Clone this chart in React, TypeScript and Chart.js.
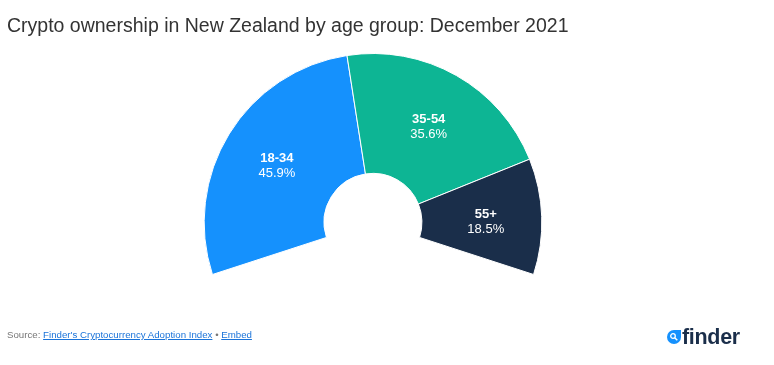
import React, { useEffect, useRef } from "react";
import { Chart, registerables } from "chart.js";

Chart.register(...registerables);

const categories = ["18-34", "35-54", "55+"];
const shares = [45.9, 35.6, 18.5];
const sliceColors = ["#1591FD", "#0DB594", "#1A2E4A"];
const titleText = "Crypto ownership in New Zealand by age group: December 2021";

const labelPlugin = {
  id: "sliceLabels",
  afterDatasetsDraw(chart: any) {
    const ctx = chart.ctx;
    const meta = chart.getDatasetMeta(0);
    meta.data.forEach((arc: any, i: number) => {
      const { x, y, startAngle, endAngle, outerRadius } = arc.getProps(
        ["x", "y", "startAngle", "endAngle", "outerRadius"],
        true
      );
      const mid = (startAngle + endAngle) / 2;
      const r = outerRadius - 56;
      const cx = x + Math.cos(mid) * r;
      const cy = y + Math.sin(mid) * r + 3;
      ctx.save();
      ctx.fillStyle = "#ffffff";
      ctx.textAlign = "center";
      ctx.textBaseline = "middle";
      ctx.font = "bold 13px 'Liberation Sans', Arial, sans-serif";
      ctx.fillText(categories[i], cx, cy - 7.5);
      ctx.font = "13px 'Liberation Sans', Arial, sans-serif";
      ctx.fillText(shares[i].toFixed(1) + "%", cx, cy + 7.5);
      ctx.restore();
    });
  },
};

export default function App() {
  const canvasRef = useRef<HTMLCanvasElement | null>(null);

  useEffect(() => {
    if (!canvasRef.current) return;
    const chart = new Chart(canvasRef.current, {
      type: "doughnut",
      data: {
        labels: categories,
        datasets: [
          {
            data: shares,
            backgroundColor: sliceColors,
            borderColor: "#ffffff",
            borderWidth: 1,
          },
        ],
      },
      options: {
        responsive: false,
        animation: false,
        rotation: -108,
        circumference: 216,
        cutout: "29%",
        layout: { padding: { top: 53, bottom: 90, left: 173, right: 201 } },
        plugins: {
          legend: { display: false },
          tooltip: { enabled: false },
          title: { display: false },
        },
      },
      plugins: [labelPlugin],
    });
    return () => chart.destroy();
  }, []);

  const font = "'Liberation Sans', Arial, Helvetica, sans-serif";

  return (
    <div
      style={{
        position: "absolute",
        left: 0,
        top: 0,
        width: 774,
        height: 365,
        background: "#ffffff",
        fontFamily: font,
        overflow: "hidden",
      }}
    >
      <canvas
        ref={canvasRef}
        width={774}
        height={365}
        style={{ position: "absolute", left: 0, top: 0, width: 774, height: 365 }}
      />
      <div
        style={{
          position: "absolute",
          left: 7,
          top: 15,
          fontSize: 19.5,
          lineHeight: "20px",
          color: "#333333",
          whiteSpace: "nowrap",
        }}
      >
        {titleText}
      </div>
      <div
        style={{
          position: "absolute",
          left: 7,
          top: 330,
          fontSize: 9.7,
          lineHeight: "10px",
          color: "#777777",
          whiteSpace: "nowrap",
        }}
      >
        Source:{" "}
        <span style={{ color: "#1a73d9", textDecoration: "underline" }}>
          Finder's Cryptocurrency Adoption Index
        </span>{" "}
        •{" "}
        <span style={{ color: "#1a73d9", textDecoration: "underline" }}>Embed</span>
      </div>
      <svg
        width="14"
        height="14"
        viewBox="0 0 14 14"
        style={{ position: "absolute", left: 667, top: 330 }}
      >
        <path d="M7 0 A7 7 0 1 1 0 7 L0 0 Z" fill="#1591FD" transform="rotate(90 7 7)" />
        <circle cx="6" cy="6" r="2.3" fill="none" stroke="#ffffff" strokeWidth="1.3" />
        <line x1="7.7" y1="7.7" x2="10.3" y2="10.3" stroke="#ffffff" strokeWidth="1.5" />
      </svg>
      <span
        style={{
          position: "absolute",
          left: 682,
          top: 325.6,
          fontSize: 21.5,
          fontWeight: "bold",
          color: "#1A2E4A",
          letterSpacing: "-0.3px",
          lineHeight: "22px",
          whiteSpace: "nowrap",
        }}
      >
        finder
      </span>
    </div>
  );
}
